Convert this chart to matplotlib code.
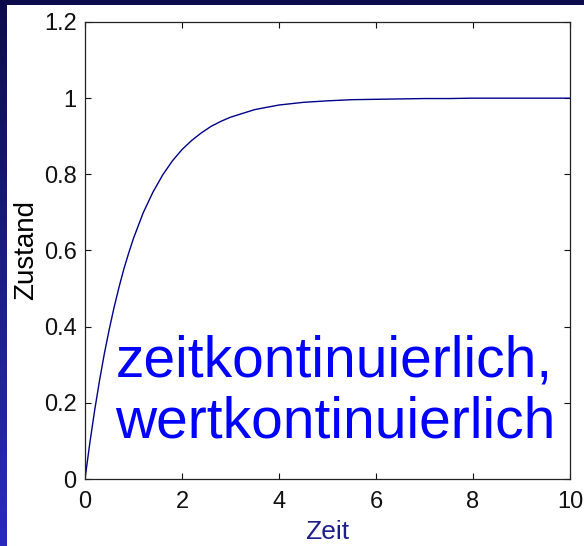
import numpy as np
import matplotlib
matplotlib.use("Agg")
import matplotlib.pyplot as plt
from matplotlib.colors import LinearSegmentedColormap
from matplotlib.patches import Rectangle

plt.rcParams['font.family'] = ['Liberation Sans', 'DejaVu Sans']

# Zustand ueber Zeit
zeit = [0.0, 0.1, 0.2, 0.3, 0.4, 0.5, 0.6, 0.7, 0.8, 0.9, 1.0,
        1.2, 1.4, 1.6, 1.8, 2.0, 2.2, 2.4, 2.6, 2.8, 3.0,
        3.5, 4.0, 4.5, 5.0, 5.5, 6.0, 6.5, 7.0, 7.5, 8.0, 8.5, 9.0, 9.5, 10.0]
zustand = [0.0, 0.095, 0.181, 0.259, 0.330, 0.393, 0.451, 0.503, 0.551, 0.593, 0.632,
           0.699, 0.753, 0.798, 0.835, 0.865, 0.889, 0.909, 0.926, 0.939, 0.950,
           0.970, 0.982, 0.989, 0.993, 0.996, 0.997, 0.998, 0.999, 0.999, 1.0, 1.0, 1.0, 1.0, 1.0]

xticks = [0, 2, 4, 6, 8, 10]
yticks = [0, 0.2, 0.4, 0.6, 0.8, 1, 1.2]
yticklabels = ["0", "0.2", "0.4", "0.6", "0.8", "1", "1.2"]
beschriftung = ["zeitkontinuierlich,", "wertkontinuierlich"]

W, H = 584, 546
fig = plt.figure(figsize=(W / 100, H / 100), dpi=100)

# Folienhintergrund: blauer Verlauf, weisse Flaeche darueber
bg = fig.add_axes([0, 0, 1, 1], zorder=-10)
cmap = LinearSegmentedColormap.from_list("folie", ["#0c0c4c", "#1c1c88", "#2b2bbb"])
bg.imshow(np.linspace(0, 1, 256).reshape(-1, 1), aspect="auto", cmap=cmap,
          extent=[0, 1, 0, 1], origin="upper")
bg.add_patch(Rectangle((7 / W, 0), 1, 1 - 5 / H, facecolor="white", edgecolor="none"))
bg.set_xlim(0, 1)
bg.set_ylim(0, 1)
bg.axis("off")

ax = fig.add_axes([85 / W, 67 / H, 485 / W, 457 / H])
ax.plot(zeit, zustand, color="#000088", lw=1.0)

ax.set_xlim(0, 10)
ax.set_ylim(0, 1.2)
ax.set_xticks(xticks)
ax.set_yticks(yticks)
ax.set_yticklabels(yticklabels)
ax.tick_params(direction="in", length=4, width=0.8, top=True, right=True,
               labelsize=17, colors="#111111")
ax.tick_params(axis="x", pad=9)
ax.tick_params(axis="y", pad=6)
for sp in ax.spines.values():
    sp.set_linewidth(0.9)
    sp.set_color("#222222")

ax.set_xlabel("Zeit", fontsize=19, color="#1e1e8c", labelpad=5)
ax.set_ylabel("Zustand", fontsize=20, color="black", labelpad=3)

ax.text(0.64, 0.268, beschriftung[0], fontsize=41, color="#0000ff", va="baseline")
ax.text(0.62, 0.108, beschriftung[1], fontsize=41, color="#0000ff", va="baseline")

fig.savefig("out.png", dpi=100)
